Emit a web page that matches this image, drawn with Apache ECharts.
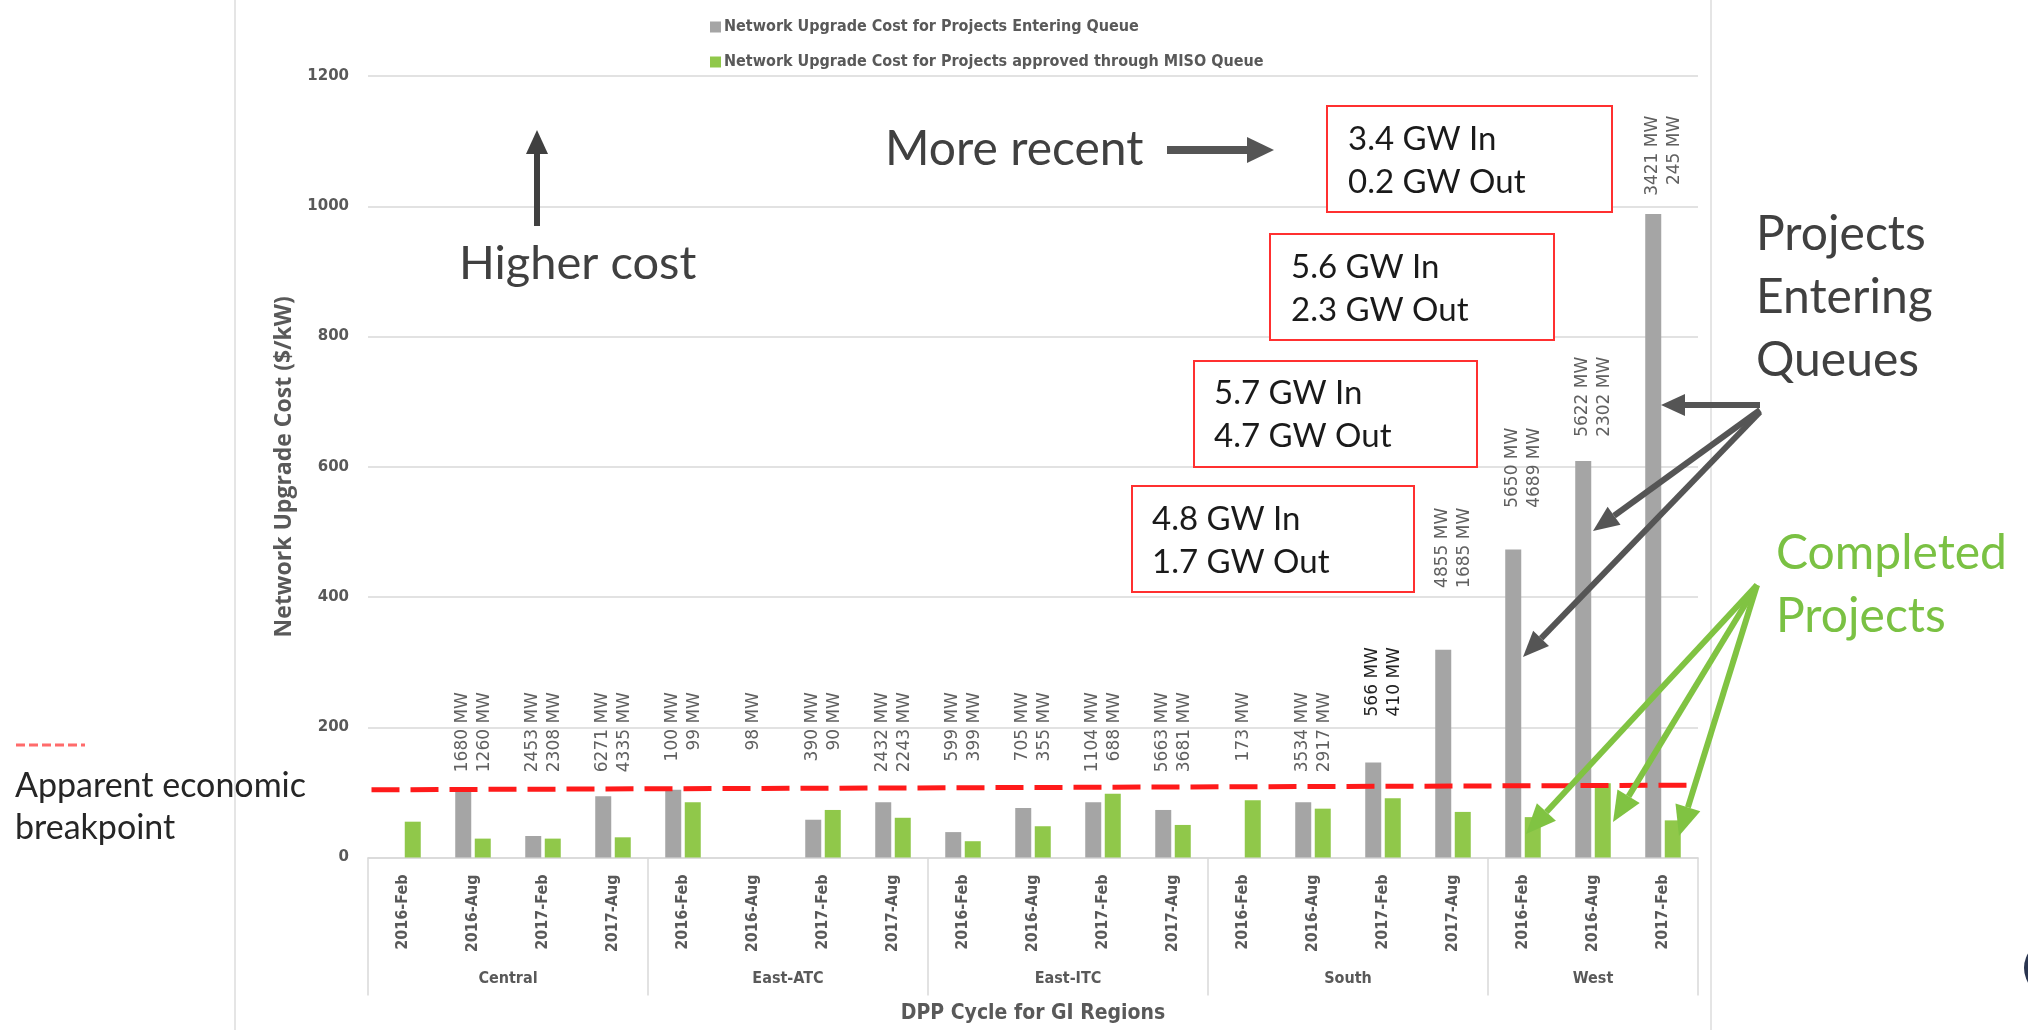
<!DOCTYPE html>
<html>
<head>
<meta charset="utf-8">
<script src="https://cdn.jsdelivr.net/npm/echarts@6.0.0/dist/echarts.min.js"></script>
<style>
  html, body { margin: 0; padding: 0; background: #fff; }
  #main { width: 2028px; height: 1030px; }
</style>
</head>
<body>
<div id="main"></div>
<script>
// DPP cycles, grouped by GI region
const periods = [
  '2016-Feb', '2016-Aug', '2017-Feb', '2017-Aug',
  '2016-Feb', '2016-Aug', '2017-Feb', '2017-Aug',
  '2016-Feb', '2016-Aug', '2017-Feb', '2017-Aug',
  '2016-Feb', '2016-Aug', '2017-Feb', '2017-Aug',
  '2016-Feb', '2016-Aug', '2017-Feb'
];
const regions = ['Central', 'East-ATC', 'East-ITC', 'South', 'West'];
const regionSizes = [4, 4, 4, 4, 3];

// $/kW
const enteringCost = [null, 101, 33, 94, 104, null, 58, 85, 39, 76, 85, 73, null, 85, 146, 319, 473, 609, 988];
const approvedCost = [55, 29, 29, 31, 85, null, 73, 61, 25, 48, 98, 50, 88, 75, 91, 70, 62, 114, 57];

// MW in / MW out written above each cycle, and the value where the text ends
const mwLabels = [
  '', '1680 MW\n1260 MW', '2453 MW\n2308 MW', '6271 MW\n4335 MW',
  '100 MW\n99 MW', '98 MW', '390 MW\n90 MW', '2432 MW\n2243 MW',
  '599 MW\n399 MW', '705 MW\n355 MW', '1104 MW\n688 MW', '5663 MW\n3681 MW',
  '173 MW', '3534 MW\n2917 MW', '566 MW\n410 MW', '4855 MW\n1685 MW',
  '5650 MW\n4689 MW', '5622 MW\n2302 MW', '3421 MW\n245 MW'
];
const mwLabelTop = [null, 254, 254, 254, 254, 254, 254, 254, 254, 254, 254, 254, 254, 254, 323, 537, 660, 769, 1139];

// apparent economic breakpoint (slightly sloped dashed line)
const breakpoint = [[0.05, 104], [18.95, 111]];

const yTicks = { min: 0, max: 1200, interval: 200 };

const GRAY = '#a5a5a5';
const GREEN = '#90c84a';
const AXIS_TXT = '#595959';
const NARROW = "'Liberation Sans Narrow', 'DejaVu Sans Condensed', sans-serif";

// group start/end in category units
const groupSpans = [];
let acc = 0;
regionSizes.forEach(n => { groupSpans.push([acc, acc + n]); acc += n; });

function arrow(x1, y1, x2, y2, color, w, hl, hw) {
  const a = Math.atan2(y2 - y1, x2 - x1);
  const bx = x2 - hl * Math.cos(a), by = y2 - hl * Math.sin(a);
  const px = -Math.sin(a) * hw / 2, py = Math.cos(a) * hw / 2;
  return [
    { type: 'line', z: 100, shape: { x1: x1, y1: y1, x2: bx, y2: by }, style: { stroke: color, lineWidth: w } },
    { type: 'polygon', z: 100, shape: { points: [[x2, y2], [bx + px, by + py], [bx - px, by - py]] }, style: { fill: color } }
  ];
}

function label(text, x, y, size, color) {
  return { type: 'text', z: 100, x: x, y: y, style: { text: text, fontFamily: 'Lato', fontSize: size, fill: color, align: 'left', verticalAlign: 'middle' } };
}

function box(x, y, w, h, lines, tx, ty) {
  return [
    { type: 'rect', z: 100, shape: { x: x, y: y, width: w, height: h }, style: { fill: '#fff', stroke: '#ff3030', lineWidth: 2 } },
    label(lines[0], tx, ty, 33, '#1a1a1a'),
    label(lines[1], tx, ty + 43, 33, '#1a1a1a')
  ];
}

const DARK = '#555555';
const GREEN_ARROW = '#80c342';

const graphics = [].concat(
  [
    { type: 'line', shape: { x1: 235, y1: 0, x2: 235, y2: 1030 }, style: { stroke: '#dcdcdc', lineWidth: 1.5 } },
    { type: 'line', shape: { x1: 1711, y1: 0, x2: 1711, y2: 1030 }, style: { stroke: '#dcdcdc', lineWidth: 1.5 } },
    { type: 'line', shape: { x1: 16, y1: 745, x2: 85, y2: 745 }, style: { stroke: '#ff6b6b', lineWidth: 3, lineDash: [9, 4] } },
    label('Apparent economic', 15, 786, 34, '#262626'),
    label('breakpoint', 15, 828, 34, '#262626'),
    label('Higher cost', 459, 264, 47, '#404040'),
    label('More recent', 885, 150, 48, '#404040'),
    label('Projects', 1756, 235, 48, '#404040'),
    label('Entering', 1756, 298, 48, '#404040'),
    label('Queues', 1756, 361, 48, '#404040'),
    label('Completed', 1776, 554, 48, '#7ac143'),
    label('Projects', 1776, 617, 48, '#7ac143'),
    { type: 'circle', shape: { cx: 2052, cy: 968, r: 28 }, style: { fill: '#2a3550' } }
  ],
  box(1327, 106, 285, 106, ['3.4 GW In', '0.2 GW Out'], 1348, 139),
  box(1270, 234, 284, 106, ['5.6 GW In', '2.3 GW Out'], 1291, 267),
  box(1194, 361, 283, 106, ['5.7 GW In', '4.7 GW Out'], 1214, 393),
  box(1132, 486, 282, 106, ['4.8 GW In', '1.7 GW Out'], 1152, 519),
  arrow(537, 226, 537, 130, '#404040', 6, 24, 22),
  arrow(1167, 150, 1274, 150, DARK, 8, 27, 26),
  arrow(1760, 405, 1661, 405, DARK, 6, 24, 22),
  arrow(1760, 410, 1593, 531, DARK, 6, 26, 22),
  arrow(1760, 412, 1523, 657, DARK, 6, 26, 22),
  arrow(1757, 585, 1526, 834, GREEN_ARROW, 6, 30, 26),
  arrow(1757, 585, 1613, 822, GREEN_ARROW, 6, 30, 26),
  arrow(1757, 585, 1679, 836, GREEN_ARROW, 6, 30, 26)
);

const chart = echarts.init(document.getElementById('main'));

const option = {
  animation: false,
  backgroundColor: '#ffffff',
  legend: {
    orient: 'vertical',
    left: 710,
    top: 19,
    padding: 0,
    itemWidth: 11,
    itemHeight: 11,
    itemGap: 19,
    icon: 'rect',
    data: ['Network Upgrade Cost for Projects Entering Queue', 'Network Upgrade Cost for Projects approved through MISO Queue'],
    textStyle: { color: AXIS_TXT, fontFamily: NARROW, fontWeight: 'bold', fontSize: 16, lineHeight: 16, padding: [0, 0, 0, -2] }
  },
  grid: { left: 368, right: 330, top: 76, bottom: 172.5, outerBoundsMode: 'none' },
  xAxis: [
    {
      type: 'category',
      data: periods,
      axisLine: { lineStyle: { color: '#d9d9d9', width: 1.5 } },
      axisTick: { show: false },
      axisLabel: {
        interval: 0, rotate: 90, margin: 17,
        color: AXIS_TXT, fontFamily: NARROW, fontWeight: 'bold', fontSize: 16
      },
      name: 'DPP Cycle for GI Regions',
      nameLocation: 'middle',
      nameGap: 146,
      nameTextStyle: { color: AXIS_TXT, fontFamily: NARROW, fontWeight: 'bold', fontSize: 21 }
    },
    { type: 'value', min: 0, max: periods.length, show: false }
  ],
  yAxis: {
    type: 'value',
    min: yTicks.min,
    max: yTicks.max,
    interval: yTicks.interval,
    axisLine: { show: false },
    axisTick: { show: false },
    splitLine: { lineStyle: { color: '#d9d9d9', width: 1.5 } },
    axisLabel: {
      margin: 19, color: AXIS_TXT, fontFamily: 'DejaVu Sans', fontWeight: 'bold', fontSize: 15,
      formatter: v => String(v)
    },
    name: 'Network Upgrade Cost ($/kW)',
    nameLocation: 'middle',
    nameRotate: 90,
    nameGap: 64,
    nameTextStyle: { color: AXIS_TXT, fontFamily: 'Open Sans', fontWeight: 'bold', fontSize: 23 }
  },
  series: [
    {
      name: 'Network Upgrade Cost for Projects Entering Queue',
      type: 'bar',
      data: enteringCost,
      barWidth: 16,
      barGap: '22%',
      itemStyle: { color: GRAY },
      z: 2
    },
    {
      name: 'Network Upgrade Cost for Projects approved through MISO Queue',
      type: 'bar',
      data: approvedCost,
      barWidth: 16,
      barGap: '22%',
      itemStyle: { color: GREEN },
      z: 2
    },
    {
      type: 'line',
      xAxisIndex: 1,
      data: breakpoint,
      symbol: 'none',
      silent: true,
      lineStyle: { color: '#ff1a1a', width: 5, type: [28, 11] },
      z: 5
    },
    {
      // MW labels above each cycle
      type: 'custom',
      silent: true,
      clip: false,
      data: mwLabelTop.map((v, i) => [i, v]).filter(d => d[1] != null && mwLabels[d[0]]),
      renderItem: function (params, api) {
        const i = api.value(0);
        const pt = api.coord([i, api.value(1)]);
        return {
          type: 'text',
          x: pt[0] + 1,
          y: pt[1],
          rotation: Math.PI / 2,
          style: {
            text: mwLabels[i],
            align: 'right',
            verticalAlign: 'middle',
            fontFamily: 'DejaVu Sans',
            fontSize: 17,
            lineHeight: 22,
            fill: i === 14 ? '#222222' : '#606060'
          }
        };
      },
      z: 4
    },
    {
      // region separators and names under the period labels
      type: 'custom',
      xAxisIndex: 1,
      silent: true,
      clip: false,
      data: groupSpans,
      renderItem: function (params, api) {
        const a = api.coord([api.value(0), 0]);
        const b = api.coord([api.value(1), 0]);
        const children = [
          { type: 'line', shape: { x1: a[0], y1: a[1], x2: a[0], y2: a[1] + 138 }, style: { stroke: '#d9d9d9', lineWidth: 1.5 } },
          {
            type: 'text', x: (a[0] + b[0]) / 2, y: a[1] + 121,
            style: { text: regions[params.dataIndex], align: 'center', verticalAlign: 'middle', fontFamily: NARROW, fontWeight: 'bold', fontSize: 16, fill: AXIS_TXT }
          }
        ];
        if (params.dataIndex === groupSpans.length - 1) {
          children.push({ type: 'line', shape: { x1: b[0], y1: b[1], x2: b[0], y2: b[1] + 138 }, style: { stroke: '#d9d9d9', lineWidth: 1.5 } });
        }
        return { type: 'group', children: children };
      }
    }
  ],
  graphic: graphics
};

chart.setOption(option);
</script>
</body>
</html>
